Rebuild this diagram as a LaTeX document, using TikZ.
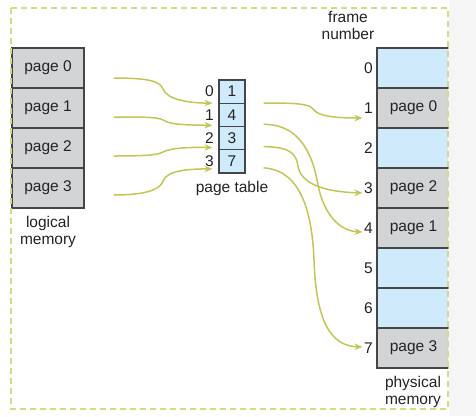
\documentclass[tikz,border=0pt]{standalone}
\usepackage{fontspec}
\setmainfont{Liberation Sans}
\usetikzlibrary{arrows.meta, positioning}
\definecolor{memgray}{RGB}{211,212,214}
\definecolor{memblue}{RGB}{206,234,251}
\definecolor{memline}{RGB}{70,70,72}
\definecolor{memtext}{RGB}{35,35,35}
\definecolor{maplink}{RGB}{196,198,84}
\definecolor{framedash}{RGB}{214,216,130}
\newcommand\memfont{\fontsize{15.5}{17}\selectfont}
\tikzset{
  lpage/.style={rectangle, draw=memline, fill=memgray, minimum width=72pt,
    minimum height=40pt, inner sep=0pt, line width=1.1pt, font=\memfont, text=memtext},
  frameblock/.style={rectangle, draw=memline, minimum width=73pt,
    minimum height=40pt, inner sep=0pt, line width=1.1pt, font=\memfont, text=memtext},
  ptcell/.style={rectangle, draw=memline, fill=memblue, minimum width=26pt,
    minimum height=23.25pt, inner sep=0pt, line width=1.1pt, font=\memfont, text=memtext},
  numlabel/.style={anchor=east, inner sep=0pt, font=\memfont, text=memtext},
  caption/.style={align=center, inner sep=0pt, font=\memfont, text=memtext},
  maparrow/.style={-{Stealth[length=8pt,width=6.5pt]}, line width=1.5pt, color=maplink}
}
\begin{document}
\begin{tikzpicture}[x=1pt, y=-1pt]
  \useasboundingbox (0,0) rectangle (476,416);
  \fill[black!4] (449,0) rectangle (476,416);

  % logical memory
  \foreach \i in {0,1,2,3} {
    \node[lpage] (lp\i) at (48,68+40*\i) {page \i};
  }
  \node[caption] (lcap) at (48,232) {logical\\memory};

  % page table
  \foreach \i/\f in {0/1,1/4,2/3,3/7} {
    \node[ptcell] (pt\i) at (232,91.625+23.25*\i) {\f};
    \node[numlabel] (pi\i) at (214,91.625+23.25*\i) {\i};
  }
  \node[caption] (ptcap) at (232,188) {page table};

  % physical memory
  \begin{scope}
    \clip (0,0) rectangle (448.4,416);
    \foreach \i/\c/\t in {0/memblue/{},1/memgray/page 0,2/memblue/{},3/memgray/page 2,
                          4/memgray/page 1,5/memblue/{},6/memblue/{},7/memgray/page 3} {
      \node[frameblock, fill=\c] (f\i) at (413.5,68+40*\i) {\t};
    }
  \end{scope}
  \foreach \i in {0,...,7} {
    \node[numlabel] (fn\i) at (373,68+40*\i) {\i};
  }
  \node[caption] (fcap) at (348,25.5) {frame\\number};
  \node[caption] (pcap) at (413,391.5) {physical\\memory};

  % logical page -> page table entry
  \draw[maparrow] ([xshift=29pt,yshift=-10pt]lp0.east) .. controls (148,78) and (160,81) .. (163,89)
    .. controls (167,100) and (190,103) .. ([xshift=-6pt,yshift=-11.5pt]pt0.west);
  \draw[maparrow] ([xshift=29pt,yshift=-9pt]lp1.east) .. controls (145,117) and (158,117) .. (163,120)
    .. controls (170,125) and (190,125) .. ([xshift=-6pt,yshift=-10.5pt]pt1.west);
  \draw[maparrow] ([xshift=29pt,yshift=-8pt]lp2.east) .. controls (145,156) and (158,155) .. (163,152)
    .. controls (170,148) and (190,147) .. ([xshift=-6pt,yshift=-9.5pt]pt2.west);
  \draw[maparrow] ([xshift=29pt,yshift=-7pt]lp3.east) .. controls (145,195) and (160,190) .. (163,181)
    .. controls (167,170) and (190,169) .. ([xshift=-6pt,yshift=-7.5pt]pt3.west);

  % page table entry -> frame
  \draw[maparrow] ([xshift=18pt,yshift=-11.5pt]pt0.east) .. controls (290,103) and (309,103) .. (313,109)
    .. controls (318,117) and (340,118) .. ([xshift=-14pt,yshift=-10pt]f1.west);
  \draw[maparrow] ([xshift=18pt,yshift=-9.5pt]pt1.east) .. controls (300,124) and (313,155) .. (318,185)
    .. controls (324,215) and (340,231) .. ([xshift=-14pt,yshift=-4pt]f4.west);
  \draw[maparrow] ([xshift=18pt,yshift=-8.5pt]pt2.east) .. controls (288,147) and (296,152) .. (298,166)
    .. controls (301,186) and (330,192) .. ([xshift=-14pt,yshift=-5pt]f3.west);
  \draw[maparrow] ([xshift=18pt,yshift=-6.5pt]pt3.east) .. controls (300,170) and (312,210) .. (314,260)
    .. controls (316,320) and (330,346) .. ([xshift=-14pt,yshift=1pt]f7.west);

  % outer frame
  \draw[framedash, line width=1.2pt, dash pattern=on 6pt off 4pt] (11,8) rectangle (448,409);
\end{tikzpicture}
\end{document}
